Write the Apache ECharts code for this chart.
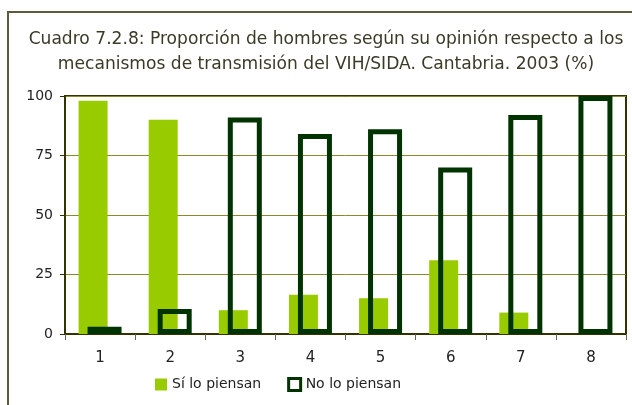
<!DOCTYPE html>
<html>
<head>
<meta charset="utf-8">
<script src="https://cdn.jsdelivr.net/npm/echarts@6/dist/echarts.min.js"></script>
<style>
html,body{margin:0;padding:0;background:#fff;}
#c{width:632px;height:405px;}
</style>
</head>
<body>
<div id="c"></div>
<script>
var categories = ['1','2','3','4','5','6','7','8'];
var siValues = [98, 90, 10, 16.5, 15, 31, 9, 0];
var noValues = [3, 10.5, 91, 84, 86, 70, 92, 100];
var yTicks = [0, 25, 50, 75, 100];
var seriesNames = ['Sí lo piensan', 'No lo piensan'];
var titleText = 'Cuadro 7.2.8: Proporción de hombres según su opinión respecto a los\nmecanismos de transmisión del VIH/SIDA. Cantabria. 2003 (%)';

var FONT = 'DejaVu Sans';
var chart = echarts.init(document.getElementById('c'), null, {renderer:'canvas'});
chart.setOption({
  animation:false,
  backgroundColor:'#ffffff',
  textStyle:{fontFamily:FONT},
  graphic:[{
    type:'rect', shape:{x:8,y:12,width:700,height:500},
    style:{fill:'none',stroke:'#5c5c3c',lineWidth:2}, silent:true, z:-10
  }],
  title:{
    text:titleText, left:321, top:22, textAlign:'center',
    textStyle:{fontFamily:FONT,fontSize:17.1,fontWeight:'normal',color:'#3a3a26',lineHeight:25}
  },
  legend:{
    left:150, top:372, itemWidth:12, itemHeight:12, itemGap:26,
    textStyle:{fontFamily:FONT,fontSize:14,color:'#222'},
    data:[
      {name:seriesNames[0], icon:'rect', itemStyle:{color:'#99cc00',borderWidth:0}},
      {name:seriesNames[1], icon:'rect', itemStyle:{color:'#ffffff',borderColor:'#003300',borderWidth:3}}
    ]
  },
  grid:{left:65,right:6,top:96,bottom:71,show:true,borderColor:'#333300',borderWidth:2,backgroundColor:'transparent'},
  xAxis:{
    type:'category', data:categories, boundaryGap:true,
    axisLine:{lineStyle:{color:'#333300',width:2}},
    axisTick:{show:true,length:6,lineStyle:{color:'#666650'}},
    axisLabel:{fontFamily:FONT,fontSize:15,color:'#222',margin:17}
  },
  yAxis:{
    type:'value', min:yTicks[0], max:yTicks[yTicks.length-1], interval:25,
    axisLine:{show:true,lineStyle:{color:'#333300',width:2}},
    axisTick:{show:true,length:5,lineStyle:{color:'#333300'}},
    axisLabel:{fontFamily:FONT,fontSize:14,color:'#222',margin:12},
    splitLine:{show:true,lineStyle:{color:'#8a8a2a',width:1}}
  },
  series:[
    {name:seriesNames[0], type:'bar', data:siValues, barWidth:29, barGap:'-69%',
     itemStyle:{color:'#99cc00'}, z:2},
    {name:seriesNames[1], type:'bar', data:noValues, barWidth:34, barGap:'-69%',
     itemStyle:{color:'rgba(255,255,255,0)',borderColor:'#003300',borderWidth:5}, z:3}
  ]
});
</script>
</body>
</html>
